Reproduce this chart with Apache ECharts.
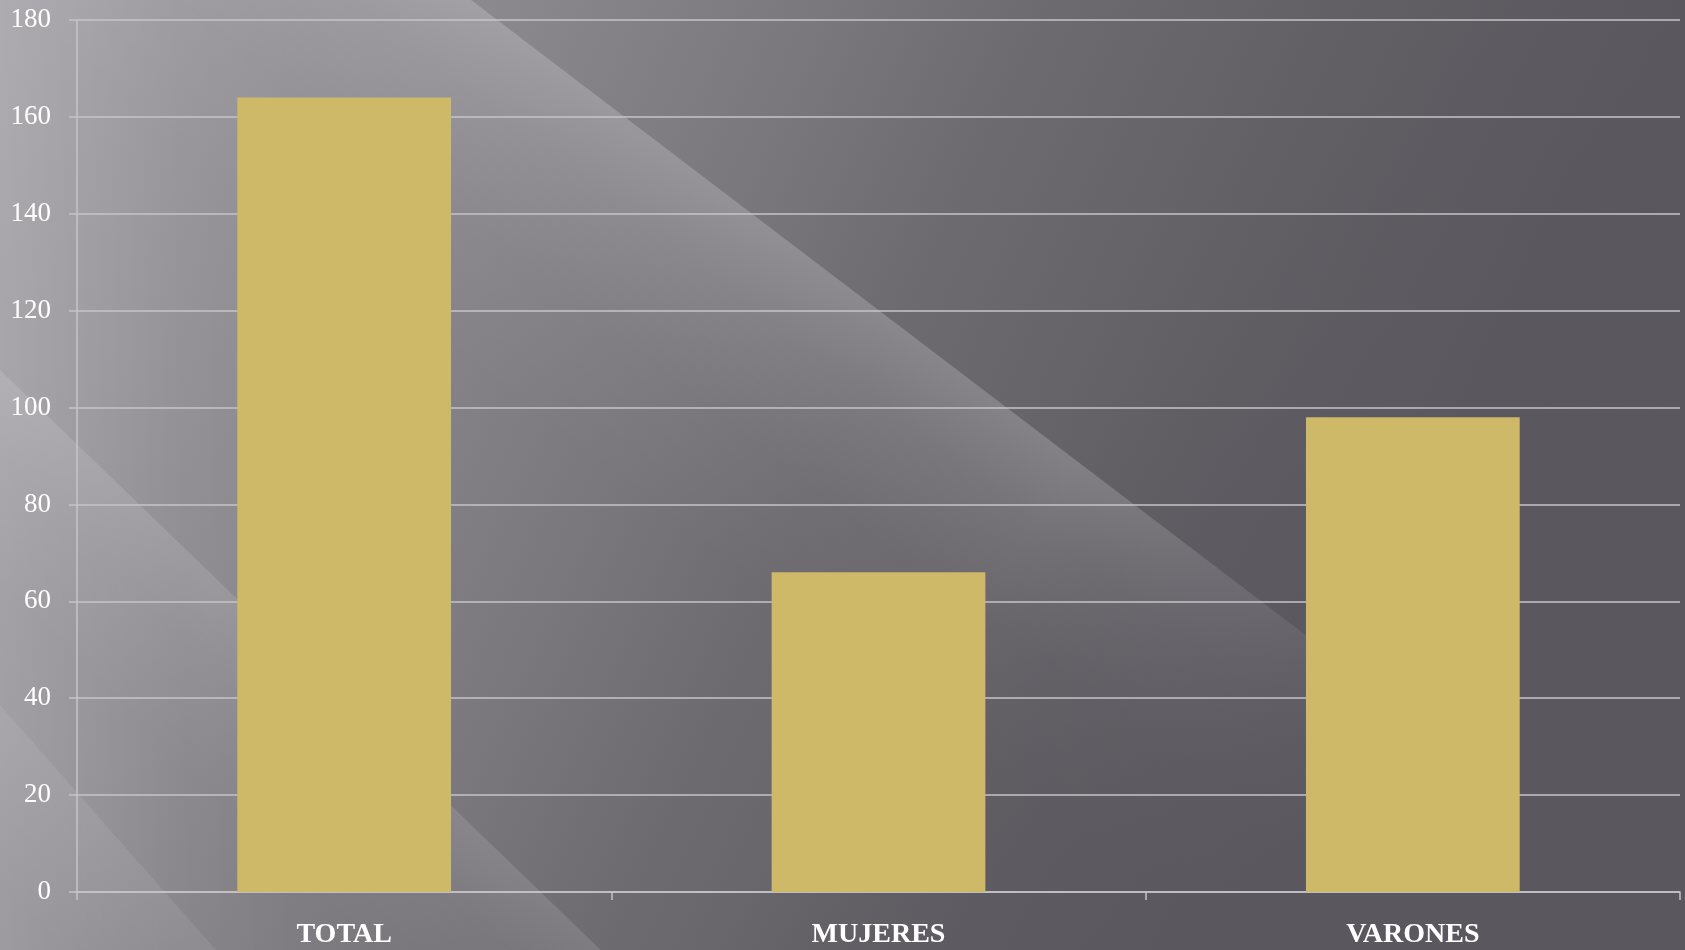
<!DOCTYPE html>
<html>
<head>
<meta charset="utf-8">
<script src="https://cdn.jsdelivr.net/npm/echarts@6/dist/echarts.min.js"></script>
<style>
html,body{margin:0;padding:0;background:#5c5a60;}
#main{width:1685px;height:950px;}
</style>
</head>
<body>
<div id="main"></div>
<script>
const categories = ['TOTAL', 'MUJERES', 'VARONES'];
const values = [164, 66, 98];
const yTicks = {min: 0, max: 180, interval: 20};

const chart = echarts.init(document.getElementById('main'));
const G = echarts.graphic;

// diagonal light streak: sharp edge along p0->p1, fading toward lower-left side
function streak(p0, p1, width, stops, back) {
  const dx = p1[0] - p0[0], dy = p1[1] - p0[1];
  const len = Math.sqrt(dx * dx + dy * dy);
  const ux = dx / len, uy = dy / len;
  const nx = -uy, ny = ux;
  const a = [p0[0] - ux * back, p0[1] - uy * back];
  const qa = [a[0] + nx * width, a[1] + ny * width];
  const q1 = [p1[0] + nx * width, p1[1] + ny * width];
  return {
    type: 'polygon', z: -10, silent: true,
    shape: {points: [a, p1, q1, qa]},
    style: {fill: new G.LinearGradient(p0[0], p0[1], p0[0] + nx * width, p0[1] + ny * width,
      stops.map(s => ({offset: s[0], color: 'rgba(255,255,255,' + s[1] + ')'})), true)}
  };
}

chart.setOption({
  animation: false,
  backgroundColor: new G.LinearGradient(0, 0, 1500, 700, [
    {offset: 0, color: '#a09da3'},
    {offset: 0.27, color: '#8b888e'},
    {offset: 0.46, color: '#79767c'},
    {offset: 0.57, color: '#6d6a70'},
    {offset: 0.75, color: '#615e64'},
    {offset: 1, color: '#58555c'}
  ], true),
  graphic: [
    // left light column
    {type: 'rect', z: -10, silent: true, shape: {x: 0, y: 0, width: 300, height: 950},
     style: {fill: new G.LinearGradient(0, 0, 300, 0, [
       {offset: 0, color: 'rgba(255,255,255,0.15)'},
       {offset: 0.6, color: 'rgba(255,255,255,0.03)'},
       {offset: 1, color: 'rgba(255,255,255,0)'}
     ], true)}},
    // main streak
    streak([471, 0], [1500, 783], 300, [[0, 0.2], [0.25, 0.11], [0.6, 0.03], [1, 0]], 900),
    // lower-left streaks
    streak([0, 370], [640, 988], 160, [[0, 0.12], [0.4, 0.05], [1, 0]], 600),
    streak([-40, 660], [260, 1000], 120, [[0, 0.08], [1, 0]], 300),
    // fade toward bottom-right
    {type: 'rect', z: -9, silent: true, shape: {x: 0, y: 0, width: 1685, height: 950},
     style: {fill: new G.LinearGradient(1080, 470, 1420, 730, [
       {offset: 0, color: 'rgba(90,87,94,0)'},
       {offset: 1, color: 'rgba(90,87,94,1)'}
     ], true)}}
  ],
  grid: {left: 77, right: 5, top: 20, bottom: 58, containLabel: false},
  xAxis: {
    type: 'category',
    data: categories,
    axisLine: {lineStyle: {color: '#c6c4c7', width: 1.5}},
    axisTick: {show: true, length: 8, lineStyle: {color: '#c6c4c7', width: 1.5}},
    axisLabel: {color: '#ffffff', fontFamily: 'Liberation Serif', fontWeight: 'bold', fontSize: 28, margin: 29}
  },
  yAxis: {
    type: 'value',
    min: yTicks.min, max: yTicks.max, interval: yTicks.interval,
    axisLine: {show: true, lineStyle: {color: '#c6c4c7', width: 1.5}},
    axisTick: {show: true, length: 8, lineStyle: {color: '#c6c4c7', width: 1.5}},
    splitLine: {lineStyle: {color: '#c6c4c7', width: 1.5}},
    axisLabel: {color: '#ffffff', fontFamily: 'Liberation Serif', fontSize: 27, margin: 26}
  },
  series: [{
    type: 'bar',
    data: values,
    barWidth: '40%',
    itemStyle: {color: '#cdb967'}
  }]
});
</script>
</body>
</html>
